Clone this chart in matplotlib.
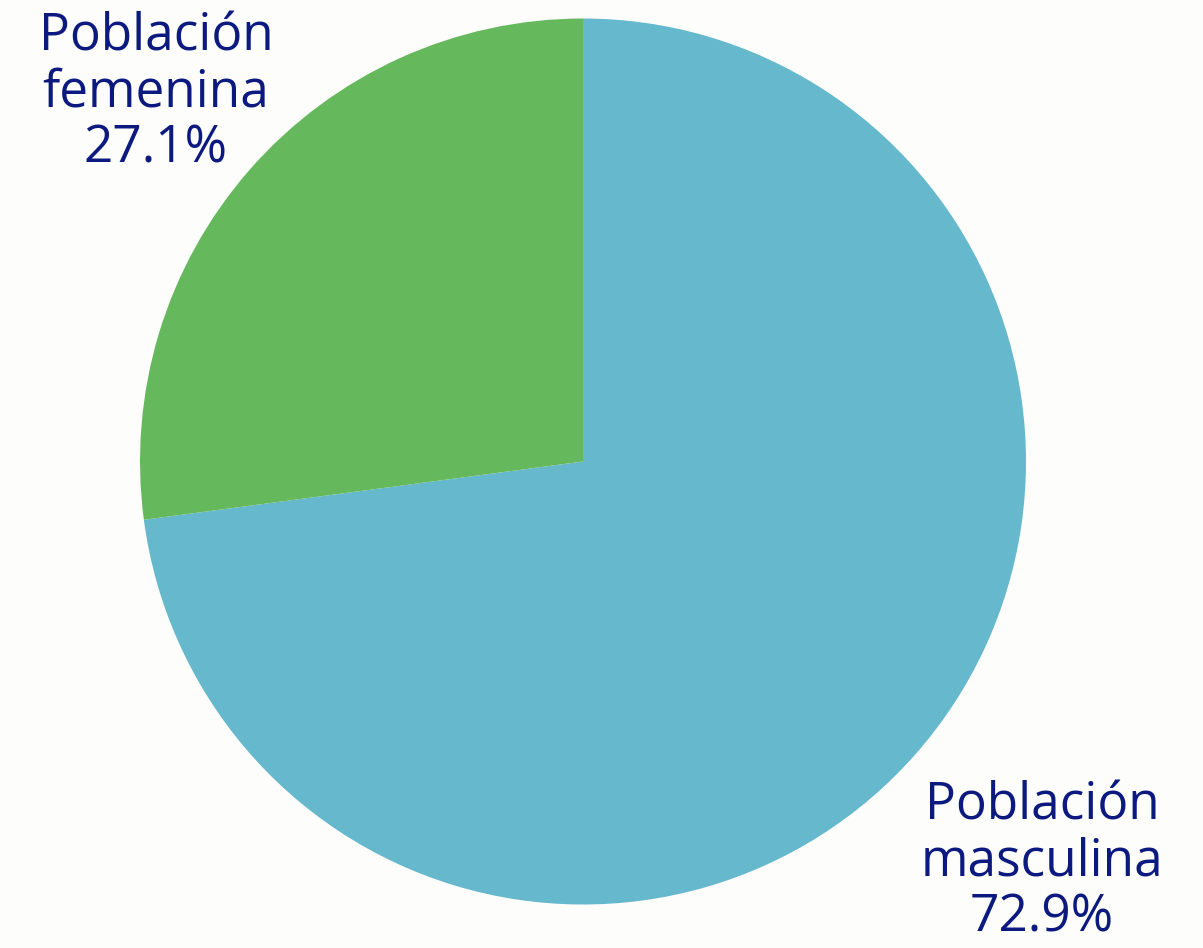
import matplotlib.pyplot as plt

labels = ['Población\nmasculina\n72.9%', 'Población\nfemenina\n27.1%']
values = [72.9, 27.1]
colors = ['#66B8CD', '#66B85D']
label_pos = [(1042, 862), (156, 93)]  # pixel positions (top-left origin)

W, H = 1203, 948
fig = plt.figure(figsize=(W / 100, H / 100), dpi=100)
fig.patch.set_facecolor('#FDFDFC')
ax = fig.add_axes([0, 0, 1, 1])

# pie centred in pixel coordinates
ax.pie(values, colors=colors, startangle=90, counterclock=False,
       center=(583, H - 461.5), radius=443, frame=True,
       wedgeprops={'linewidth': 0})
ax.set_xlim(0, W)
ax.set_ylim(0, H)
ax.set_aspect('equal')
ax.axis('off')

for text, (x, y) in zip(labels, label_pos):
    ax.text(x, H - y, text, ha='center', va='center', fontsize=37,
            family='Open Sans', color='#0C1A80', linespacing=1.13)

fig.savefig('out.png', dpi=100, facecolor=fig.get_facecolor())
